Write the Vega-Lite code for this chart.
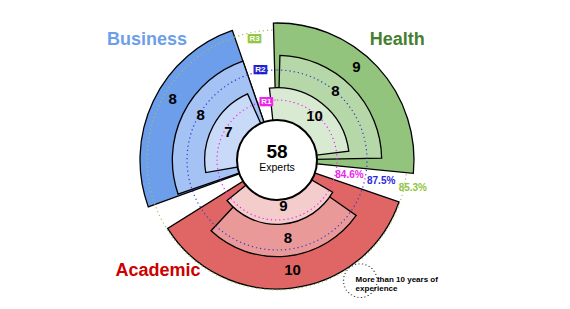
{
  "$schema": "https://vega.github.io/schema/vega-lite/v6.json",
  "width": 570,
  "height": 309,
  "autosize": {"type": "fit", "contains": "padding"},
  "padding": {"left": 0, "top": 11, "right": 16, "bottom": 0},
  "background": "white",
  "config": {"view": {"stroke": null}, "text": {"font": "Liberation Sans"}},
  "resolve": {"scale": {"theta": "independent"}},
  "datasets": {
    "cells": [
      {"sector": "Business", "ring": "R1", "experts": 7},
      {"sector": "Business", "ring": "R2", "experts": 8},
      {"sector": "Business", "ring": "R3", "experts": 8},
      {"sector": "Health", "ring": "R1", "experts": 10},
      {"sector": "Health", "ring": "R2", "experts": 8},
      {"sector": "Health", "ring": "R3", "experts": 9},
      {"sector": "Academic", "ring": "R1", "experts": 9},
      {"sector": "Academic", "ring": "R2", "experts": 8},
      {"sector": "Academic", "ring": "R3", "experts": 10}
    ],
    "rings": [
      {"ring": "R1", "share": "84.6%"},
      {"ring": "R2", "share": "87.5%"},
      {"ring": "R3", "share": "85.3%"}
    ],
    "sectors": [
      {"sector": "Business"},
      {"sector": "Health"},
      {"sector": "Academic"}
    ],
    "total": [{"experts": 58, "label": "Experts", "note": ["More than 10 years of", "experience"]}]
  },
  "layer": [
    {
      "data": {"name": "cells"},
      "transform": [{"filter": "datum.sector == 'Business' && datum.ring == 'R3'"}],
      "mark": {"type": "arc", "fill": "#6d9eeb", "stroke": "#000000", "strokeWidth": 1.3},
      "encoding": {
        "theta": {"field": "sector", "type": "nominal", "scale": {"type": "band", "domain": ["Business"], "range": [-1.91986, -0.33161], "paddingInner": 0, "paddingOuter": 0}},
        "radius": {"field": "ring", "type": "ordinal", "bandPosition": 1, "scale": {"type": "band", "domain": ["R1", "R2", "R3"], "range": [40, 137], "paddingInner": 0, "paddingOuter": 0}},
        "radius2": {"value": 38}
      }
    },
    {
      "data": {"name": "cells"},
      "transform": [{"filter": "datum.sector == 'Health' && datum.ring == 'R3'"}],
      "mark": {"type": "arc", "fill": "#93c47d", "stroke": "#000000", "strokeWidth": 1.3},
      "encoding": {
        "theta": {"field": "sector", "type": "nominal", "scale": {"type": "band", "domain": ["Health"], "range": [-0.02618, 1.66853], "paddingInner": 0, "paddingOuter": 0}},
        "radius": {"field": "ring", "type": "ordinal", "bandPosition": 1},
        "radius2": {"value": 38}
      }
    },
    {
      "data": {"name": "cells"},
      "transform": [{"filter": "datum.sector == 'Academic' && datum.ring == 'R3'"}],
      "mark": {"type": "arc", "fill": "#e06666", "stroke": "#000000", "strokeWidth": 1.3, "radiusOffset": -8},
      "encoding": {
        "theta": {"field": "sector", "type": "nominal", "scale": {"type": "band", "domain": ["Academic"], "range": [1.90241, 4.15388], "paddingInner": 0, "paddingOuter": 0}},
        "radius": {"field": "ring", "type": "ordinal", "bandPosition": 1},
        "radius2": {"value": 38}
      }
    },
    {
      "data": {"name": "cells"},
      "transform": [{"filter": "datum.sector == 'Business' && datum.ring == 'R2'"}],
      "mark": {"type": "arc", "fill": "#a4c2f4", "stroke": "#000000", "strokeWidth": 1.3},
      "encoding": {
        "theta": {"field": "sector", "type": "nominal", "scale": {"type": "band", "domain": ["Business"], "range": [-1.90241, -0.33161], "paddingInner": 0, "paddingOuter": 0}},
        "radius": {"field": "ring", "type": "ordinal", "bandPosition": 1},
        "radius2": {"value": 38}
      }
    },
    {
      "data": {"name": "cells"},
      "transform": [{"filter": "datum.sector == 'Health' && datum.ring == 'R2'"}],
      "mark": {"type": "arc", "fill": "#b6d7a8", "stroke": "#000000", "strokeWidth": 1.3},
      "encoding": {
        "theta": {"field": "sector", "type": "nominal", "scale": {"type": "band", "domain": ["Health"], "range": [0.02793, 1.55334], "paddingInner": 0, "paddingOuter": 0}},
        "radius": {"field": "ring", "type": "ordinal", "bandPosition": 1},
        "radius2": {"value": 38}
      }
    },
    {
      "data": {"name": "cells"},
      "transform": [{"filter": "datum.sector == 'Academic' && datum.ring == 'R2'"}],
      "mark": {"type": "arc", "fill": "#ea9999", "stroke": "#000000", "strokeWidth": 1.3, "radiusOffset": -8},
      "encoding": {
        "theta": {"field": "sector", "type": "nominal", "scale": {"type": "band", "domain": ["Academic"], "range": [2.18166, 3.89208], "paddingInner": 0, "paddingOuter": 0}},
        "radius": {"field": "ring", "type": "ordinal", "bandPosition": 1},
        "radius2": {"value": 38}
      }
    },
    {
      "data": {"name": "cells"},
      "transform": [{"filter": "datum.sector == 'Business' && datum.ring == 'R1'"}],
      "mark": {"type": "arc", "fill": "#c9daf8", "stroke": "#000000", "strokeWidth": 1.3},
      "encoding": {
        "theta": {"field": "sector", "type": "nominal", "scale": {"type": "band", "domain": ["Business"], "range": [-1.74533, -0.41888], "paddingInner": 0, "paddingOuter": 0}},
        "radius": {"field": "ring", "type": "ordinal", "bandPosition": 1},
        "radius2": {"value": 38}
      }
    },
    {
      "data": {"name": "cells"},
      "transform": [{"filter": "datum.sector == 'Health' && datum.ring == 'R1'"}],
      "mark": {"type": "arc", "fill": "#d9ead3", "stroke": "#000000", "strokeWidth": 1.3},
      "encoding": {
        "theta": {"field": "sector", "type": "nominal", "scale": {"type": "band", "domain": ["Health"], "range": [-0.10472, 1.44862], "paddingInner": 0, "paddingOuter": 0}},
        "radius": {"field": "ring", "type": "ordinal", "bandPosition": 1},
        "radius2": {"value": 38}
      }
    },
    {
      "data": {"name": "cells"},
      "transform": [{"filter": "datum.sector == 'Academic' && datum.ring == 'R1'"}],
      "mark": {"type": "arc", "fill": "#f4cccc", "stroke": "#000000", "strokeWidth": 1.3, "radiusOffset": -8},
      "encoding": {
        "theta": {"field": "sector", "type": "nominal", "scale": {"type": "band", "domain": ["Academic"], "range": [2.0944, 4.03171], "paddingInner": 0, "paddingOuter": 0}},
        "radius": {"field": "ring", "type": "ordinal", "bandPosition": 1},
        "radius2": {"value": 38}
      }
    },
    {
      "data": {"name": "rings"},
      "transform": [{"filter": "datum.ring == 'R1'"}],
      "mark": {"type": "arc", "fill": null, "fillOpacity": 0, "stroke": "#ee22ee", "strokeWidth": 1.2, "strokeDash": [1.2, 3]},
      "encoding": {"theta": {"value": 0}, "theta2": {"value": 6.2832}, "radius": {"value": 60}}
    },
    {
      "data": {"name": "rings"},
      "transform": [{"filter": "datum.ring == 'R2'"}],
      "mark": {"type": "arc", "fill": null, "fillOpacity": 0, "stroke": "#3535d0", "strokeWidth": 1.2, "strokeDash": [1.2, 3]},
      "encoding": {"theta": {"value": 0}, "theta2": {"value": 6.2832}, "radius": {"value": 90}}
    },
    {
      "data": {"name": "rings"},
      "transform": [{"filter": "datum.ring == 'R3'"}],
      "mark": {"type": "arc", "fill": null, "fillOpacity": 0, "stroke": "#a3bd6a", "strokeWidth": 1.2, "strokeDash": [1.2, 3]},
      "encoding": {"theta": {"value": 0}, "theta2": {"value": 6.2832}, "radius": {"value": 130}}
    },
    {
      "data": {"name": "total"},
      "mark": {"type": "arc", "fill": "#ffffff", "stroke": "#000000", "strokeWidth": 2},
      "encoding": {"theta": {"value": 0}, "theta2": {"value": 6.2832}, "radius": {"value": 40}}
    },
    {
      "data": {"name": "total"},
      "mark": {"type": "text", "fontSize": 19, "fontWeight": "bold", "color": "#000000", "baseline": "middle", "align": "center", "dy": -8},
      "encoding": {"text": {"field": "experts"}}
    },
    {
      "data": {"name": "total"},
      "mark": {"type": "text", "fontSize": 10.5, "color": "#000000", "baseline": "middle", "align": "center", "dy": 8},
      "encoding": {"text": {"field": "label"}}
    },
    {
      "data": {"name": "cells"},
      "transform": [{"filter": "datum.sector == 'Business'"}],
      "mark": {"type": "text", "fontSize": 15, "fontWeight": "bold", "color": "#000000", "baseline": "middle", "align": "center"},
      "encoding": {
        "theta": {"field": "sector", "type": "nominal", "bandPosition": 0.549, "scale": {"type": "band", "domain": ["Business"], "range": [-1.88496, -0.34907], "paddingInner": 0, "paddingOuter": 0}},
        "radius": {"field": "ring", "type": "ordinal", "bandPosition": 0.5},
        "text": {"field": "experts"}
      }
    },
    {
      "data": {"name": "cells"},
      "transform": [{"filter": "datum.sector == 'Health'"}],
      "mark": {"type": "text", "fontSize": 15, "fontWeight": "bold", "color": "#000000", "baseline": "middle", "align": "center"},
      "encoding": {
        "theta": {"field": "sector", "type": "nominal", "bandPosition": 0.457, "scale": {"type": "band", "domain": ["Health"], "range": [-0.03491, 1.58825], "paddingInner": 0, "paddingOuter": 0}},
        "radius": {"field": "ring", "type": "ordinal", "bandPosition": 0.55},
        "text": {"field": "experts"}
      }
    },
    {
      "data": {"name": "cells"},
      "transform": [{"filter": "datum.sector == 'Academic'"}],
      "mark": {"type": "text", "fontSize": 15, "fontWeight": "bold", "color": "#000000", "baseline": "middle", "align": "center"},
      "encoding": {
        "theta": {"field": "sector", "type": "nominal", "bandPosition": 0.487, "scale": {"type": "band", "domain": ["Academic"], "range": [2.00713, 4.04916], "paddingInner": 0, "paddingOuter": 0}},
        "radius": {"field": "ring", "type": "ordinal", "bandPosition": 0.2},
        "text": {"field": "experts"}
      }
    },
    {
      "data": {"name": "rings"},
      "mark": {"type": "text", "fontSize": 10, "fontWeight": "bold", "baseline": "middle", "align": "center"},
      "encoding": {
        "theta": {"datum": "Health", "type": "nominal", "bandPosition": 1.113, "scale": {"type": "band", "domain": ["Health"], "range": [-0.03491, 1.58825], "paddingInner": 0, "paddingOuter": 0}},
        "radius": {"field": "ring", "type": "ordinal", "bandPosition": 1.05},
        "text": {"field": "share"},
        "fill": {"field": "ring", "type": "nominal", "scale": {"domain": ["R1", "R2", "R3"], "range": ["#ee22ee", "#2a2ad8", "#8fc440"]}, "legend": null}
      }
    },
    {
      "data": {"name": "rings"},
      "mark": {"type": "text", "font": "DejaVu Sans Mono", "fontSize": 7, "baseline": "middle", "align": "center", "strokeWidth": 0.8, "text": "███"},
      "encoding": {
        "theta": {"datum": "Business", "type": "nominal", "bandPosition": 1.108, "scale": {"type": "band", "domain": ["Business"], "range": [-1.88496, -0.34907], "paddingInner": 0, "paddingOuter": 0}},
        "radius": {"field": "ring", "type": "ordinal", "bandPosition": 0.58},
        "fill": {"field": "ring", "type": "nominal", "legend": null},
        "stroke": {"field": "ring", "type": "nominal", "scale": {"domain": ["R1", "R2", "R3"], "range": ["#ee22ee", "#1111cc", "#93c83e"]}, "legend": null}
      }
    },
    {
      "data": {"name": "rings"},
      "mark": {"type": "text", "fontSize": 8, "fontWeight": "bold", "color": "#ffffff", "baseline": "middle", "align": "center"},
      "encoding": {
        "theta": {"datum": "Business", "type": "nominal", "bandPosition": 1.108, "scale": {"type": "band", "domain": ["Business"], "range": [-1.88496, -0.34907], "paddingInner": 0, "paddingOuter": 0}},
        "radius": {"field": "ring", "type": "ordinal", "bandPosition": 0.58},
        "text": {"field": "ring"}
      }
    },
    {
      "data": {"name": "sectors"},
      "transform": [{"filter": "datum.sector == 'Business'"}],
      "mark": {"type": "text", "fontSize": 18, "fontWeight": "bold", "color": "#6d9eeb", "baseline": "middle", "align": "center"},
      "encoding": {
        "theta": {"field": "sector", "type": "nominal", "bandPosition": 0.689, "scale": {"type": "band", "domain": ["Business"], "range": [-1.88496, -0.34907], "paddingInner": 0, "paddingOuter": 0}},
        "radius": {"datum": "R3", "type": "ordinal", "bandPosition": 2.225},
        "text": {"field": "sector"}
      }
    },
    {
      "data": {"name": "sectors"},
      "transform": [{"filter": "datum.sector == 'Health'"}],
      "mark": {"type": "text", "fontSize": 18, "fontWeight": "bold", "color": "#45802f", "baseline": "middle", "align": "center"},
      "encoding": {
        "theta": {"field": "sector", "type": "nominal", "bandPosition": 0.506, "scale": {"type": "band", "domain": ["Health"], "range": [-0.03491, 1.58825], "paddingInner": 0, "paddingOuter": 0}},
        "radius": {"datum": "R3", "type": "ordinal", "bandPosition": 2.02},
        "text": {"field": "sector"}
      }
    },
    {
      "data": {"name": "sectors"},
      "transform": [{"filter": "datum.sector == 'Academic'"}],
      "mark": {"type": "text", "fontSize": 18, "fontWeight": "bold", "color": "#cc0000", "baseline": "middle", "align": "center"},
      "encoding": {
        "theta": {"field": "sector", "type": "nominal", "bandPosition": 0.957, "scale": {"type": "band", "domain": ["Academic"], "range": [2.00713, 4.04916], "paddingInner": 0, "paddingOuter": 0}},
        "radius": {"datum": "R3", "type": "ordinal", "bandPosition": 1.8},
        "text": {"field": "sector"}
      }
    },
    {
      "data": {"name": "total"},
      "mark": {"type": "text", "font": "DejaVu Sans", "fontSize": 44, "text": "●", "fill": null, "fillOpacity": 0, "stroke": "#000000", "strokeWidth": 1, "strokeDash": [1, 2.5], "baseline": "middle", "align": "center"},
      "encoding": {
        "theta": {"datum": "Academic", "type": "nominal", "bandPosition": 0.257, "scale": {"type": "band", "domain": ["Academic"], "range": [2.00713, 4.04916], "paddingInner": 0, "paddingOuter": 0}},
        "radius": {"datum": "R3", "type": "ordinal", "bandPosition": 1.251}
      }
    },
    {
      "data": {"name": "total"},
      "mark": {"type": "text", "fontSize": 8, "fontWeight": "bold", "color": "#000000", "baseline": "middle", "align": "left", "lineHeight": 9.5},
      "encoding": {
        "theta": {"datum": "Academic", "type": "nominal", "bandPosition": 0.271, "scale": {"type": "band", "domain": ["Academic"], "range": [2.00713, 4.04916], "paddingInner": 0, "paddingOuter": 0}},
        "radius": {"datum": "R3", "type": "ordinal", "bandPosition": 1.192},
        "text": {"field": "note"}
      }
    }
  ]
}
